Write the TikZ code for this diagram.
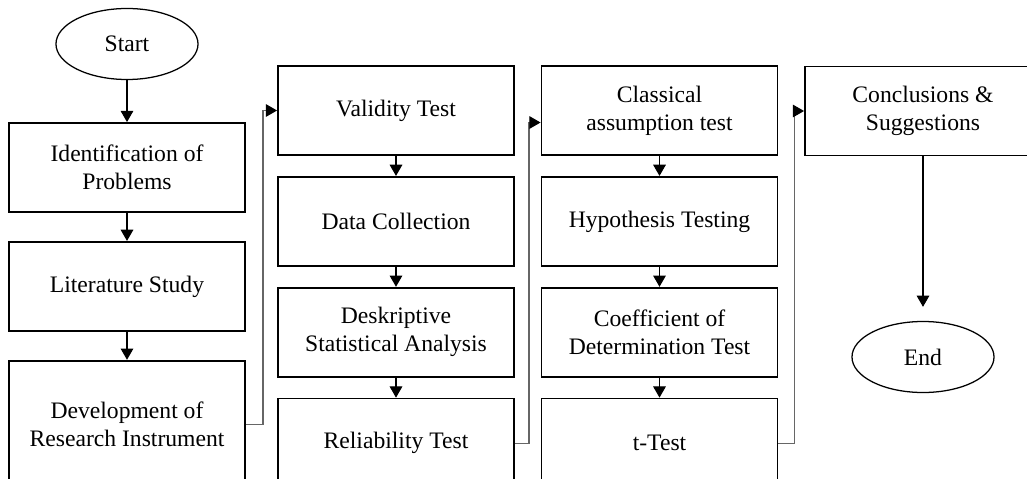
\documentclass[tikz,border=0pt]{standalone}
\usepackage{fontspec}
\setmainfont{Liberation Serif}
\usetikzlibrary{shapes,arrows.meta,shapes.geometric,positioning}

\begin{document}
\begin{tikzpicture}[
	x=0.025cm, y=-0.025cm, node distance=0.5cm,
	>={Triangle[length=8pt,width=9pt]},
	block/.style={rectangle,draw,line width=1.3pt,minimum width=5.9cm,minimum height=2.225cm,align=center,inner sep=2pt,font=\fontsize{16.8}{20}\selectfont},
	term/.style={ellipse,draw,line width=0.9pt,minimum width=3.55cm,minimum height=1.775cm,inner sep=0pt,font=\fontsize{16.8}{20}\selectfont},
	link/.style={->,line width=0.8pt},
	side/.style={-{Triangle[length=8pt,width=9pt,color=black]},line width=0.8pt,draw=black!60}
	]
	\useasboundingbox (0,0) rectangle (1027,479);
	\clip (0,0) rectangle (1027,479);
	% first column
	\node [term] (S) at (127,44) {Start};
	\node [block] (I) at (127,167.5) {Identification of\\Problems};
	\node [block,below=0.7cm of I] (L) {Literature Study};
	\node [block,below=0.7cm of L,minimum height=3.175cm] (D) {Development of\\Research Instrument};
	% second column
	\node [block] (V) at (396,110.5) {Validity Test};
	\node [block,below=of V] (DC) {Data Collection};
	\node [block,below=of DC] (DS) {Deskriptive\\Statistical Analysis};
	\node [block,below=of DS] (R) {Reliability Test};
	% third column
	\node [block] (C) at (659.5,110.5) {Classical\\assumption test};
	\node [block,below=of C] (H) {Hypothesis Testing};
	\node [block,below=of H] (CD) {Coefficient of\\Determination Test};
	\node [block,below=of CD] (T) {t-Test};
	% last column
	\node [block] (CS) at (923,111) {Conclusions \&\\Suggestions};
	\node [term] (E) at (923,357) {End};

	\draw [link] (S) -- (I);
	\draw [link] (I) -- (L);
	\draw [link] (L) -- (D);
	\draw [link] (V) -- (DC);
	\draw [link] (DC) -- (DS);
	\draw [link] (DS) -- (R);
	\draw [link] (C) -- (H);
	\draw [link] (H) -- (CD);
	\draw [link] (CD) -- (T);
	\draw [link] (CS) -- ([yshift=0.35cm]E.north);

	\draw [side] (D.east) -- ++(17,0) |- (V.west);
	\draw [side] (R.east) -- ++(14,0) |- ([yshift=-0.3cm]C.west);
	\draw [side] (T.east) -- ++(16,0) |- (CS.west);
\end{tikzpicture}
\end{document}
